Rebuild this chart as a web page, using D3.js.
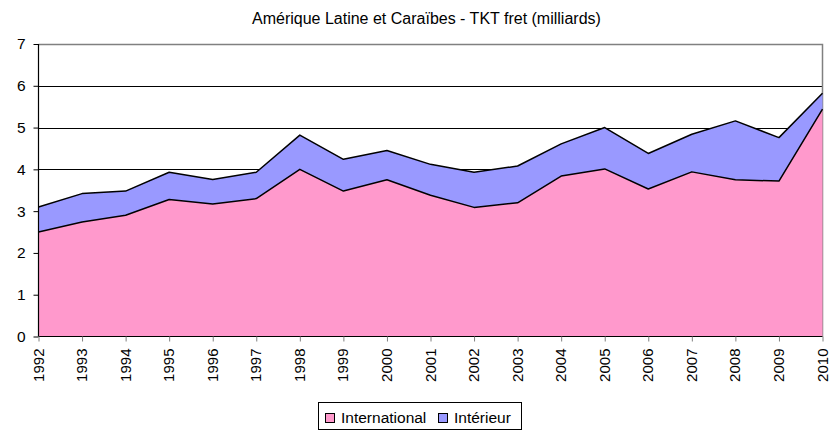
<!DOCTYPE html>
<html>
<head>
<meta charset="utf-8">
<script src="https://cdn.jsdelivr.net/npm/d3@7.9.0/dist/d3.min.js"></script>
<style>
  body { margin: 0; background: #fff; }
  text { font-family: "Liberation Sans", Arial, sans-serif; fill: #000; }
</style>
</head>
<body>
<svg id="chart" width="829" height="431"></svg>
<script>
// values (milliards TKT)
const years = [1992, 1993, 1994, 1995, 1996, 1997, 1998, 1999, 2000, 2001, 2002, 2003, 2004, 2005, 2006, 2007, 2008, 2009, 2010];
const international = [2.50, 2.74, 2.90, 3.28, 3.17, 3.30, 4.00, 3.48, 3.75, 3.38, 3.09, 3.20, 3.84, 4.01, 3.53, 3.94, 3.75, 3.72, 5.44];
const interieur = [0.60, 0.68, 0.58, 0.65, 0.59, 0.63, 0.82, 0.76, 0.70, 0.74, 0.84, 0.88, 0.77, 0.99, 0.85, 0.90, 1.41, 1.04, 0.38];
const yTicks = [0, 1, 2, 3, 4, 5, 6, 7];

const svg = d3.select('#chart');
const mLeft = 38.5, mRight = 822.5, mTop = 44, mBottom = 336.5;

const x = d3.scaleLinear().domain([1992, 2010]).range([mLeft, mRight]);
const y = d3.scaleLinear().domain([0, 7]).range([mBottom, mTop]);

const rows = years.map((yr, i) => ({ year: yr, international: international[i], interieur: interieur[i] }));
const stack = d3.stack().keys(['international', 'interieur'])(rows);
const colors = { international: '#FF99CC', interieur: '#9999FF' };

// grid lines
svg.append('g').selectAll('line').data(yTicks.filter(t => t > 0 && t < 7)).enter().append('line')
  .attr('x1', mLeft).attr('x2', mRight)
  .attr('y1', d => Math.round(y(d)) + 0.5).attr('y2', d => Math.round(y(d)) + 0.5)
  .attr('stroke', '#000').attr('stroke-width', 1);

// plot frame (top + right)
svg.append('path')
  .attr('d', `M${mLeft},${mTop + 0.5}H${mRight}V${mBottom}`)
  .attr('fill', 'none').attr('stroke', '#808080').attr('stroke-width', 1.5);

const area = d3.area().x((d, i) => x(years[i])).y0(d => y(d[0])).y1(d => y(d[1]));
const line = d3.line().x((d, i) => x(years[i])).y(d => y(d[1]));

svg.append('g').selectAll('path').data(stack).enter().append('path')
  .attr('d', area)
  .attr('fill', d => colors[d.key]);

svg.append('g').selectAll('path').data(stack).enter().append('path')
  .attr('d', line)
  .attr('fill', 'none').attr('stroke', '#000').attr('stroke-width', 1.5)
  .attr('stroke-linejoin', 'round');

// y axis
const yAxis = d3.axisLeft(y).tickValues(yTicks).tickSize(5).tickPadding(8).tickFormat(d3.format('d'));
const gy = svg.append('g').attr('transform', `translate(${mLeft},0)`).call(yAxis);
gy.select('.domain').attr('stroke', '#000').attr('stroke-width', 1.2).attr('d', `M0,${mTop}V${mBottom}`);
gy.selectAll('.tick line').attr('stroke', '#000');
gy.selectAll('.tick text').style('font-size', '15.5px').attr('fill', '#000');

// x axis
const xAxis = d3.axisBottom(x).tickValues(years).tickSize(5).tickPadding(4).tickFormat(d3.format('d'));
const gx = svg.append('g').attr('transform', `translate(0,${mBottom})`).call(xAxis);
gx.select('.domain').attr('stroke', '#000').attr('stroke-width', 1.2).attr('d', `M${mLeft},0H${mRight}`);
gx.selectAll('.tick line').attr('stroke', '#808080');
gx.selectAll('.tick text')
  .style('font-size', '15px')
  .attr('transform', 'rotate(-90)')
  .attr('x', -12).attr('y', 0).attr('dy', '0.3em')
  .attr('text-anchor', 'end');

// title
svg.append('text').attr('x', 252).attr('y', 23.5).attr('text-anchor', 'start')
  .style('font-size', '16px').text('Amérique Latine et Caraïbes - TKT fret (milliards)');

// legend
const lg = svg.append('g');
lg.append('rect').attr('x', 318.5).attr('y', 402.5).attr('width', 203).attr('height', 27)
  .attr('fill', '#fff').attr('stroke', '#000').attr('stroke-width', 1);
const items = [
  { key: 'international', label: 'International', x: 325 },
  { key: 'interieur', label: 'Intérieur', x: 438 }
];
items.forEach(it => {
  lg.append('rect').attr('x', it.x + 0.5).attr('y', 413.5).attr('width', 9).attr('height', 9)
    .attr('fill', colors[it.key]).attr('stroke', '#000').attr('stroke-width', 1);
  lg.append('text').attr('x', it.x + 16).attr('y', 422.5)
    .style('font-size', '15.5px')
    .text(it.label);
});
</script>
</body>
</html>
